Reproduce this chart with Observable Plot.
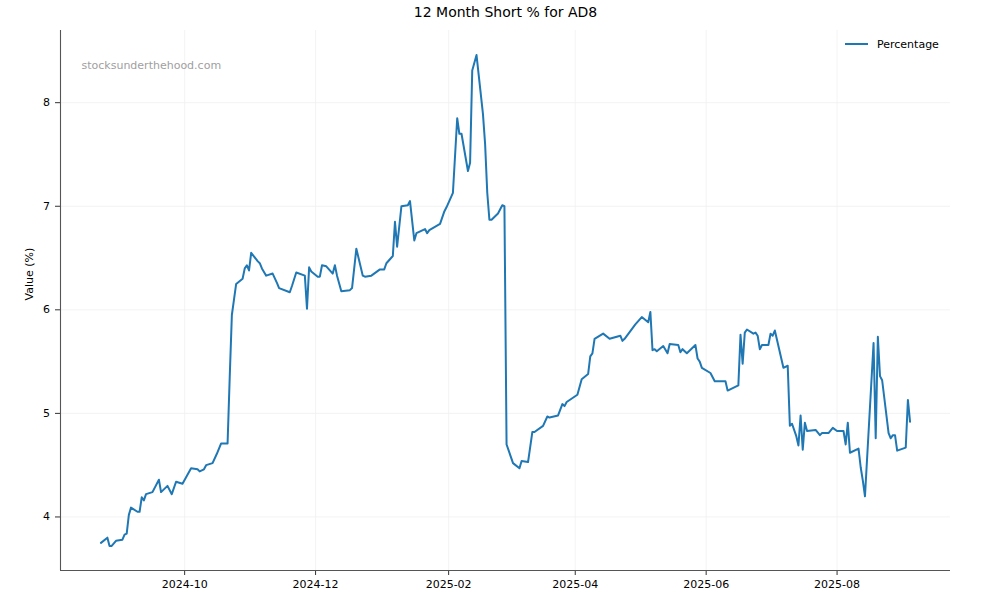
<!DOCTYPE html>
<html>
<head>
<meta charset="utf-8">
<script src="https://cdn.jsdelivr.net/npm/d3@7"></script>
<script src="https://cdn.jsdelivr.net/npm/@observablehq/plot@0.6"></script>
<style>
  html, body { margin: 0; padding: 0; background: #fff; }
  svg { font-family: "DejaVu Sans", sans-serif; }
</style>
</head>
<body>
<div id="chart"></div>
<script>
const title = "12 Month Short % for AD8";
const yLabel = "Value (%)";
const seriesName = "Percentage";
const watermark = "stocksunderthehood.com";

const dates = [
  "2024-08-23","2024-08-26","2024-08-27","2024-08-28","2024-08-30","2024-09-02","2024-09-03","2024-09-04",
  "2024-09-05","2024-09-06","2024-09-09","2024-09-10","2024-09-11","2024-09-12","2024-09-13","2024-09-16",
  "2024-09-19","2024-09-20","2024-09-23","2024-09-25","2024-09-27","2024-09-30","2024-10-04","2024-10-07",
  "2024-10-08","2024-10-10","2024-10-11","2024-10-14","2024-10-16","2024-10-18","2024-10-21","2024-10-22",
  "2024-10-23","2024-10-24","2024-10-25","2024-10-28","2024-10-29","2024-10-30","2024-10-31","2024-11-01",
  "2024-11-04","2024-11-05","2024-11-06","2024-11-08","2024-11-11","2024-11-13","2024-11-14","2024-11-19",
  "2024-11-20","2024-11-22","2024-11-26","2024-11-27","2024-11-28","2024-11-29","2024-12-02","2024-12-03",
  "2024-12-04","2024-12-06","2024-12-09","2024-12-10","2024-12-11","2024-12-13","2024-12-17","2024-12-18",
  "2024-12-20","2024-12-23","2024-12-24","2024-12-27","2024-12-31","2025-01-02","2025-01-03","2025-01-06",
  "2025-01-07","2025-01-08","2025-01-10","2025-01-13","2025-01-14","2025-01-16","2025-01-17","2025-01-21",
  "2025-01-22","2025-01-23","2025-01-28","2025-01-30","2025-01-31","2025-02-03","2025-02-05","2025-02-06",
  "2025-02-07","2025-02-10","2025-02-11","2025-02-12","2025-02-14","2025-02-17","2025-02-18","2025-02-19",
  "2025-02-20","2025-02-21","2025-02-24","2025-02-26","2025-02-27","2025-02-28","2025-03-03","2025-03-06",
  "2025-03-07","2025-03-10","2025-03-12","2025-03-13","2025-03-17","2025-03-19","2025-03-20","2025-03-24",
  "2025-03-26","2025-03-27","2025-03-28","2025-04-02","2025-04-04","2025-04-07","2025-04-08","2025-04-09",
  "2025-04-10","2025-04-14","2025-04-17","2025-04-22","2025-04-23","2025-04-24","2025-04-29","2025-05-02",
  "2025-05-05","2025-05-06","2025-05-07","2025-05-08","2025-05-09","2025-05-12","2025-05-14","2025-05-15",
  "2025-05-19","2025-05-20","2025-05-21","2025-05-23","2025-05-27","2025-05-28","2025-05-29","2025-05-30",
  "2025-06-03","2025-06-05","2025-06-10","2025-06-11","2025-06-16","2025-06-17","2025-06-18","2025-06-19",
  "2025-06-20","2025-06-23","2025-06-24","2025-06-25","2025-06-26","2025-06-27","2025-06-30","2025-07-01",
  "2025-07-02","2025-07-03","2025-07-07","2025-07-09","2025-07-10","2025-07-11","2025-07-13","2025-07-14",
  "2025-07-15","2025-07-16","2025-07-17","2025-07-18","2025-07-22","2025-07-24","2025-07-25","2025-07-28",
  "2025-07-30","2025-08-01","2025-08-04","2025-08-05","2025-08-06","2025-08-07","2025-08-11","2025-08-12",
  "2025-08-13","2025-08-14","2025-08-18","2025-08-19","2025-08-20","2025-08-21","2025-08-22","2025-08-25",
  "2025-08-26","2025-08-27","2025-08-28","2025-08-29","2025-09-02","2025-09-03","2025-09-04"
];

const values = [
  3.75,3.80,3.72,3.72,3.77,3.78,3.83,3.84,
  4.02,4.09,4.05,4.05,4.19,4.16,4.22,4.24,
  4.36,4.24,4.30,4.22,4.34,4.32,4.47,4.46,
  4.44,4.46,4.50,4.52,4.61,4.71,4.71,5.35,
  5.95,6.10,6.25,6.30,6.40,6.43,6.38,6.55,
  6.47,6.45,6.40,6.33,6.35,6.26,6.21,6.17,
  6.23,6.36,6.33,6.01,6.41,6.37,6.32,6.32,
  6.43,6.42,6.35,6.43,6.33,6.18,6.19,6.21,
  6.59,6.33,6.32,6.33,6.39,6.39,6.45,6.52,
  6.85,6.61,7.00,7.01,7.05,6.67,6.74,6.78,
  6.74,6.77,6.83,6.95,6.99,7.13,7.85,7.70,
  7.70,7.34,7.42,8.31,8.46,7.89,7.60,7.13,
  6.87,6.87,6.93,7.01,7.00,4.70,4.52,4.47,
  4.54,4.53,4.82,4.82,4.88,4.97,4.96,4.98,
  5.09,5.07,5.11,5.18,5.33,5.38,5.55,5.58,
  5.72,5.77,5.72,5.75,5.70,5.72,5.86,5.93,
  5.88,5.98,5.61,5.62,5.60,5.65,5.58,5.67,
  5.66,5.59,5.62,5.58,5.66,5.53,5.50,5.44,
  5.39,5.31,5.31,5.22,5.27,5.76,5.48,5.78,
  5.81,5.77,5.78,5.75,5.62,5.66,5.66,5.77,
  5.75,5.80,5.44,5.46,4.88,4.90,4.78,4.69,
  4.98,4.65,4.91,4.83,4.84,4.79,4.81,4.81,
  4.86,4.83,4.83,4.70,4.91,4.62,4.66,4.48,
  4.35,4.20,5.68,4.76,5.74,5.36,5.32,4.81,
  4.76,4.79,4.79,4.64,4.67,5.13,4.92
];

const xTickDates = ["2024-10-01","2024-12-01","2025-02-01","2025-04-01","2025-06-01","2025-08-01"];
const yTicks = [4, 5, 6, 7, 8];

const parse = s => new Date(s + "T00:00:00Z");
const data = dates.map((d, i) => ({date: parse(d), value: values[i]}));
const xTicks = xTickDates.map(parse);

const xExt = d3.extent(data, d => d.date);
const xPad = (xExt[1] - xExt[0]) * 0.05;
const xDomain = [new Date(+xExt[0] - xPad), new Date(+xExt[1] + xPad)];
const yExt = d3.extent(values);
const yPad = (yExt[1] - yExt[0]) * 0.05;
const yDomain = [yExt[0] - yPad, yExt[1] + yPad];

const lineColor = "#1f77b4";

const svg = Plot.plot({
  width: 1000,
  height: 600,
  marginTop: 30,
  marginRight: 50,
  marginBottom: 30,
  marginLeft: 60,
  style: {fontFamily: "DejaVu Sans, sans-serif", fontSize: "11px", color: "#000", background: "#fff"},
  x: {type: "utc", domain: xDomain},
  y: {domain: yDomain},
  marks: [
    Plot.gridX(xTicks, {stroke: "#f0f0f0", strokeOpacity: 1, strokeWidth: 0.8}),
    Plot.gridY(yTicks, {stroke: "#f0f0f0", strokeOpacity: 1, strokeWidth: 0.8}),
    Plot.lineY(data, {x: "date", y: "value", stroke: lineColor, strokeWidth: 2}),
    Plot.axisX(xTicks, {tickFormat: d3.utcFormat("%Y-%m"), tickSize: 5, tickPadding: 5, label: null, stroke: "#333"}),
    Plot.axisY(yTicks, {tickFormat: d3.format("d"), tickSize: 5, tickPadding: 5.5, label: null, stroke: "#333"}),
    Plot.ruleX([xDomain[0]], {stroke: "#555", strokeWidth: 1.1}),
    Plot.ruleY([yDomain[0]], {stroke: "#555", strokeWidth: 1.1}),
    Plot.text([title], {frameAnchor: "top", lineAnchor: "middle", dy: -18, fontSize: 14, fill: "#000"}),
    Plot.text([watermark], {frameAnchor: "top-left", lineAnchor: "middle", dx: 21, dy: 35, textAnchor: "start", fontSize: 11, fill: "#a0a0a0"}),
    Plot.text([yLabel], {frameAnchor: "left", lineAnchor: "middle", dx: -31, rotate: -90, fontSize: 11, fill: "#000"})
  ]
});

// legend (line swatch + label), top-right inside the frame
const sel = d3.select(svg);
const lg = sel.append("g").attr("class", "legend");
lg.append("line").attr("x1", 845).attr("x2", 868).attr("y1", 44).attr("y2", 44)
  .attr("stroke", lineColor).attr("stroke-width", 2);
lg.append("text").attr("x", 877).attr("y", 44).attr("dy", "0.35em")
  .attr("text-anchor", "start")
  .attr("font-size", 11).attr("fill", "#000").text(seriesName);

document.getElementById("chart").appendChild(svg);
</script>
</body>
</html>
